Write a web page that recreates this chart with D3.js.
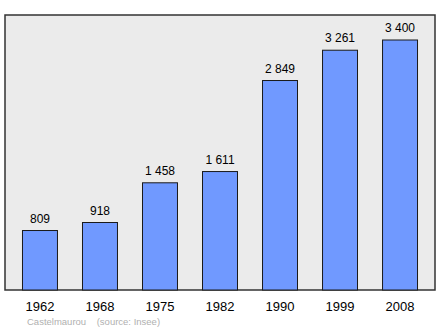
<!DOCTYPE html>
<html>
<head>
<meta charset="utf-8">
<script src="https://cdn.jsdelivr.net/npm/d3@7"></script>
<style>
  body { margin: 0; background: #fff; }
  text { font-family: "Liberation Sans", Arial, sans-serif; }
</style>
</head>
<body>
<svg id="chart" width="440" height="329"></svg>
<script>
const years = ['1962', '1968', '1975', '1982', '1990', '1999', '2008'];
const population = [809, 918, 1458, 1611, 2849, 3261, 3400];
const valueLabels = ['809', '918', '1 458', '1 611', '2 849', '3 261', '3 400'];
const sourceText = 'Castelmaurou    (source: Insee)';

const svg = d3.select('#chart');
const frame = { left: 5, top: 15, right: 435, bottom: 290 };

// plot frame
svg.append('rect')
  .attr('x', frame.left)
  .attr('y', frame.top)
  .attr('width', frame.right - frame.left)
  .attr('height', frame.bottom - frame.top)
  .attr('fill', '#ebebeb')
  .attr('stroke', '#333')
  .attr('stroke-width', 1.5);

const x = d3.scaleBand()
  .domain(years)
  .range([10, 430])
  .paddingInner(0.417)
  .paddingOuter(0.208);

const y = d3.scaleLinear()
  .domain([0, 3740])
  .range([frame.bottom, frame.top]);

const bars = svg.append('g').selectAll('g')
  .data(years)
  .enter()
    .append('g');

bars.append('rect')
  .attr('x', d => x(d))
  .attr('y', (d, i) => y(population[i]))
  .attr('width', x.bandwidth())
  .attr('height', (d, i) => y(0) - y(population[i]))
  .attr('fill', '#7099ff')
  .attr('stroke', '#1a1a1a')
  .attr('stroke-width', 1);

bars.append('text')
  .attr('x', d => x(d) + x.bandwidth() / 2)
  .attr('y', (d, i) => y(population[i]) - 8)
  .attr('text-anchor', 'middle')
  .style('font-size', '12px')
  .attr('fill', '#000')
  .text((d, i) => valueLabels[i]);

// year axis labels
const xAxis = svg.append('g')
  .attr('transform', `translate(0,${frame.bottom})`)
  .call(d3.axisBottom(x).tickSize(0).tickPadding(11.5));
xAxis.select('.domain').remove();
xAxis.selectAll('text')
  .style('font-size', '13px')
  .style('font-family', '"Liberation Sans", Arial, sans-serif')
  .attr('fill', '#000');

svg.append('text')
  .attr('x', 27)
  .attr('y', 325)
  .style('font-size', '9.5px')
  .style('white-space', 'pre')
  .attr('xml:space', 'preserve')
  .attr('fill', '#b0b0b0')
  .text(sourceText);
</script>
</body>
</html>
